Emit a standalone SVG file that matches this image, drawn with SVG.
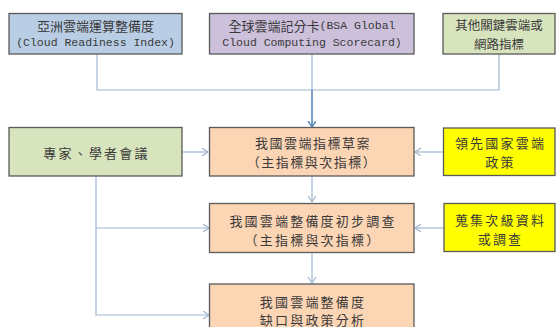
<svg xmlns="http://www.w3.org/2000/svg" width="556" height="327" viewBox="0 0 556 327">
<style>
.box{stroke:#5a5a5a;stroke-width:1.3}
.blue{fill:#b9cde5}.purple{fill:#ccc0da}.green{fill:#d7e4bd}.orange{fill:#fcd5b5}.yellow{fill:#ffff00}
text{font-family:"Noto Sans CJK TC","Noto Sans CJK SC",sans-serif;font-size:13px;fill:#3a3a3a;text-anchor:middle;dominant-baseline:central}
.lat{font-family:"Liberation Mono","Noto Sans CJK TC",monospace;font-size:11.5px}
.sp{letter-spacing:2.2px}
.conn{fill:none;stroke:#9fb6cf;stroke-width:1.2}
.main{fill:none;stroke:#5b87bd;stroke-width:1.6}
</style>
<defs>
<marker id="ah" markerUnits="userSpaceOnUse" markerWidth="8" markerHeight="10" refX="6" refY="4" orient="auto">
<path d="M0,0 L6,4 L0,8" fill="none" stroke="#9fb6cf" stroke-width="1.2"/>
</marker>
<marker id="ahm" markerUnits="userSpaceOnUse" markerWidth="8" markerHeight="10" refX="6" refY="4" orient="auto">
<path d="M0,0 L6,4 L0,8" fill="none" stroke="#5b87bd" stroke-width="1.4"/>
</marker>
</defs>
<g id="connectors">
<path class="conn" d="M97,54 V90 H499 V54"/>
<path class="conn" d="M312,54 V90"/>
<path class="main" d="M312,90 V127" marker-end="url(#ahm)"/>
<path class="conn" d="M182,152 H208" marker-end="url(#ah)"/>
<path class="conn" d="M443,152 H415" marker-end="url(#ah)"/>
<path class="conn" d="M312,176 V202" marker-end="url(#ah)"/>
<path class="conn" d="M444,228 H415" marker-end="url(#ah)"/>
<path class="conn" d="M312,253 V283" marker-end="url(#ah)"/>
<path class="conn" d="M96,176 V315 H209" marker-end="url(#ah)"/>
<path class="conn" d="M96,228 H209" marker-end="url(#ah)"/>
</g>
<g id="n1">
<rect class="box blue" x="9" y="13.5" width="173" height="40.5"/>
<text x="95.5" y="25">亞洲雲端運算整備度</text>
<text class="lat" x="95.5" y="42">(Cloud Readiness Index)</text>
</g>
<g id="n2">
<rect class="box purple" x="209.5" y="13.5" width="204.5" height="40.5"/>
<text x="312" y="25"><tspan>全球雲端記分卡</tspan><tspan class="lat">(BSA Global</tspan></text>
<text class="lat" x="312" y="42">Cloud Computing Scorecard)</text>
</g>
<g id="n3">
<rect class="box green" x="443" y="13.5" width="112" height="40.5"/>
<text x="499" y="24" style="font-size:12.5px">其他關鍵雲端或</text>
<text x="499" y="43" style="font-size:12.5px">網路指標</text>
</g>
<g id="n4">
<rect class="box orange" x="209.5" y="127.5" width="204.5" height="48.5"/>
<text x="313" y="142" style="letter-spacing:1.5px">我國雲端指標草案</text>
<text x="312" y="161" style="letter-spacing:1.5px">（主指標與次指標）</text>
</g>
<g id="n5">
<rect class="box green" x="9" y="127.5" width="173" height="48.5"/>
<text class="sp" x="96.5" y="152">專家、學者會議</text>
</g>
<g id="n6">
<rect class="box yellow" x="443.5" y="128" width="111.5" height="47.5"/>
<text class="sp" x="500.5" y="142">領先國家雲端</text>
<text class="sp" x="500.5" y="161">政策</text>
</g>
<g id="n7">
<rect class="box orange" x="209.5" y="203.5" width="204.5" height="49"/>
<text class="sp" x="313" y="220">我國雲端整備度初步調查</text>
<text class="sp" x="313" y="239">（主指標與次指標）</text>
</g>
<g id="n8">
<rect class="box yellow" x="444" y="203.5" width="111" height="48"/>
<text class="sp" x="500.5" y="219">蒐集次級資料</text>
<text class="sp" x="500.5" y="238">或調查</text>
</g>
<g id="n9">
<rect class="box orange" x="209.5" y="284" width="204.5" height="52"/>
<text class="sp" x="313" y="301">我國雲端整備度</text>
<text class="sp" x="313" y="319">缺口與政策分析</text>
</g>
</svg>
